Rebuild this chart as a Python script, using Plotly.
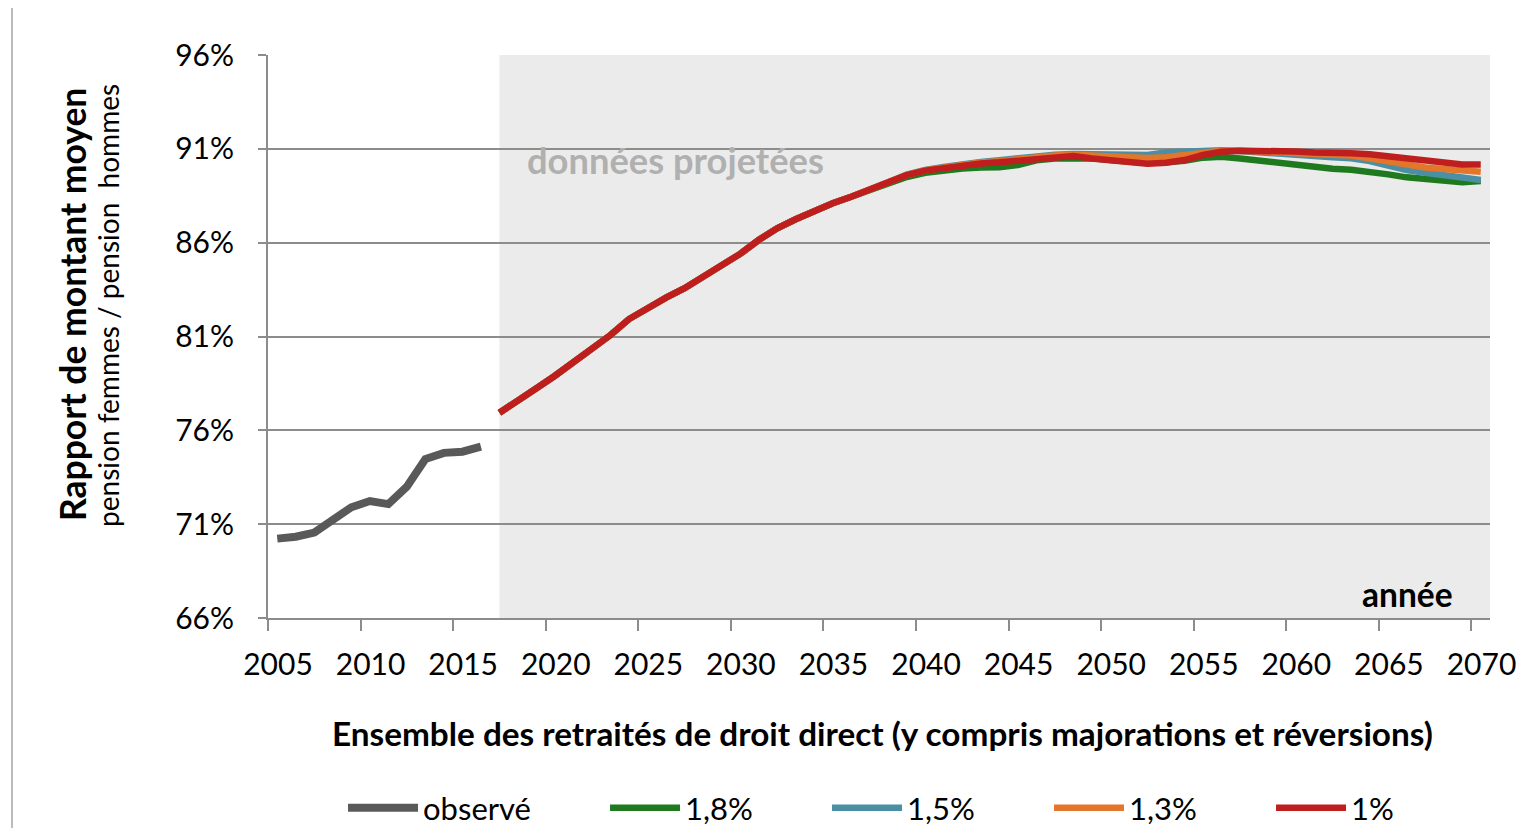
import plotly.graph_objects as go

# ---------------- data ----------------
obs_years = list(range(2005, 2017))
obs_values = [70.23, 70.33, 70.55, 71.22, 71.9, 72.23, 72.07, 73.0, 74.47, 74.8, 74.86, 75.13]

proj_years = list(range(2017, 2071))
common_2017_2037 = [76.94, 77.56, 78.24, 78.91, 79.62, 80.37, 81.08, 81.93, 82.55, 83.07,
                    83.57, 84.19, 84.72, 85.4, 86.14, 86.77, 87.25, 87.7, 88.1, 88.45, 88.81]

red_1 = common_2017_2037 + [89.2, 89.6, 89.84, 89.98, 90.12, 90.22, 90.28, 90.37, 90.51, 90.6,
                            90.62, 90.49, 90.37, 90.26, 90.2, 90.26, 90.4, 90.67, 90.84, 90.9,
                            90.91, 90.93, 90.86, 90.8, 90.8, 90.76, 90.71, 90.6, 90.44, 90.33,
                            90.26, 90.17, 90.17]
blue_15 = common_2017_2037 + [89.22, 89.63, 89.88, 90.03, 90.18, 90.3, 90.39, 90.51, 90.64, 90.69,
                              90.72, 90.71, 90.67, 90.64, 90.67, 90.8, 90.84, 90.9, 90.93, 90.88,
                              90.8, 90.72, 90.63, 90.6, 90.55, 90.5, 90.35, 90.1, 89.87, 89.73,
                              89.64, 89.47, 89.34]
orange_13 = common_2017_2037 + [89.21, 89.61, 89.86, 90.0, 90.15, 90.27, 90.34, 90.45, 90.58, 90.65,
                                90.68, 90.62, 90.56, 90.51, 90.51, 90.55, 90.65, 90.8, 90.9, 90.9,
                                90.85, 90.8, 90.76, 90.72, 90.68, 90.64, 90.5, 90.32, 90.14, 90.01,
                                89.93, 89.82, 89.78]
green_18 = common_2017_2037 + [89.13, 89.5, 89.72, 89.85, 89.95, 90.0, 90.02, 90.14, 90.39, 90.49,
                               90.53, 90.5, 90.4, 90.3, 90.25, 90.28, 90.36, 90.53, 90.58, 90.49,
                               90.37, 90.3, 90.12, 90.0, 89.94, 89.88, 89.78, 89.64, 89.48, 89.37,
                               89.3, 89.22, 89.28]

x_tick_labels = ["2005", "2010", "2015", "2020", "2025", "2030", "2035",
                 "2040", "2045", "2050", "2055", "2060", "2065", "2070"]
y_tick_values = [66, 71, 76, 81, 86, 91, 96]
y_tick_labels = [f"{v}%" for v in y_tick_values]

series = [
    ("1,8%", green_18, "#1f7a1f"),
    ("1,5%", blue_15, "#4a8fa3"),
    ("1,3%", orange_13, "#e3762b"),
    ("1%", red_1, "#be1e1e"),
]

FONT = "Lato"
GRID = "#8c8c8c"

fig = go.Figure()
fig.add_trace(go.Scatter(x=obs_years, y=obs_values, mode="lines", name="observé",
                         line=dict(color="#595959", width=8), legend="legend"))
for name, vals, col in series:
    fig.add_trace(go.Scatter(x=proj_years, y=vals, mode="lines", name=name,
                             line=dict(color=col, width=6.5), legend="legend2"))

x_min = int(x_tick_labels[0]) - 0.5
x_max = int(x_tick_labels[-1]) + 0.5

# shaded projection zone
fig.add_shape(type="rect", xref="x", yref="paper", x0=proj_years[0], x1=x_max, y0=0, y1=1,
              fillcolor="#ebebeb", line=dict(width=0), layer="below")
# outer chart border
fig.add_shape(type="rect", xref="paper", yref="paper", x0=-0.2095, x1=1.0376, y0=-0.45, y1=1.0959,
              line=dict(color="#a6a6a6", width=1.5), fillcolor="rgba(0,0,0,0)", layer="below")

fig.add_annotation(text="<b>données projetées</b>", xref="x", yref="y", x=2018.4, y=90.4,
                   xanchor="left", yanchor="middle", showarrow=False,
                   font=dict(family=FONT, size=36.3, color="#b0b0b0"))
fig.add_annotation(text="<b>année</b>", xref="paper", yref="paper", x=0.9715, y=0.043,
                   xanchor="right", yanchor="middle", showarrow=False,
                   font=dict(family=FONT, size=33.5, color="#000000"))
fig.add_annotation(text="<b>Rapport de montant moyen</b>", xref="paper", yref="paper",
                   x=-0.1595, y=0.556, textangle=-90, showarrow=False,
                   xanchor="center", yanchor="middle",
                   font=dict(family=FONT, size=35.5, color="#000000"))
fig.add_annotation(text="pension femmes / pension\u00a0\u00a0hommes", xref="paper", yref="paper",
                   x=-0.131, y=0.556, textangle=-90, showarrow=False,
                   xanchor="center", yanchor="middle",
                   font=dict(family=FONT, size=28, color="#000000"))
fig.add_annotation(text="<b>Ensemble des retraités de droit direct (y compris majorations et réversions)</b>",
                   xref="paper", yref="paper", x=0.503, y=-0.2042, xanchor="center",
                   yanchor="middle", showarrow=False,
                   font=dict(family=FONT, size=33.3, color="#000000"))

# page body has an 8 px margin: the figure is shifted so that the plot lands where the reference has it
fig.update_layout(
    width=1530, height=820,
    margin=dict(l=260, r=48, t=47, b=210, autoexpand=False),
    paper_bgcolor="white", plot_bgcolor="white",
    font=dict(family=FONT, size=30, color="#000000"),
    showlegend=True,
    legend=dict(orientation="h", x=0.0614, y=-0.3375, xanchor="left", yanchor="middle",
                font=dict(family=FONT, size=31), itemwidth=70, bgcolor="rgba(0,0,0,0)"),
    legend2=dict(orientation="h", x=0.2758, y=-0.3375, xanchor="left", yanchor="middle",
                 font=dict(family=FONT, size=31), entrywidth=137, itemwidth=70,
                 traceorder="normal", bgcolor="rgba(0,0,0,0)"),
    xaxis=dict(range=[x_min, x_max], tickvals=[int(t) - 0.5 for t in x_tick_labels],
               ticktext=x_tick_labels, ticklabelshift=10, ticklabelstandoff=8,
               showgrid=False, zeroline=False,
               showline=True, linecolor=GRID, linewidth=2, ticks="outside", ticklen=11,
               tickwidth=2, tickcolor=GRID, tickfont=dict(family=FONT, size=30)),
    yaxis=dict(range=[66, 96], tickvals=y_tick_values, ticktext=y_tick_labels,
               showgrid=True, gridcolor=GRID, gridwidth=2, zeroline=False,
               showline=True, linecolor=GRID, linewidth=2, ticks="outside", ticklen=8,
               ticklabelstandoff=18,
               tickwidth=2, tickcolor=GRID, tickfont=dict(family=FONT, size=30)),
)

fig.write_html("out.html")
